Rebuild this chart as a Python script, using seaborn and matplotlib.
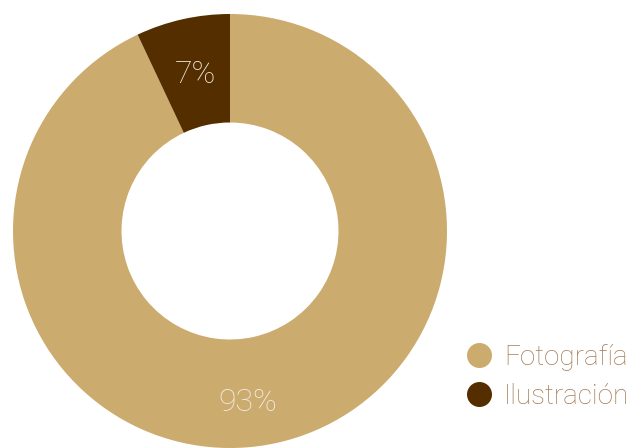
import matplotlib
matplotlib.use("Agg")
import matplotlib.pyplot as plt
from matplotlib.lines import Line2D
import seaborn as sns

categories = ["Fotografía", "Ilustración"]
shares = [93, 7]
colors = ["#CCAB6E", "#552E00"]
legend_text_color = "#A57C58"

sns.set_theme(style="white")
plt.rcParams["font.family"] = ["Roboto", "DejaVu Sans"]

fig = plt.figure(figsize=(6.34, 4.48), dpi=100)
ax = fig.add_axes([13 / 634, 0 / 448, 434 / 634, 434 / 448])

wedges, texts, autotexts = ax.pie(
    shares,
    colors=colors,
    startangle=90,
    counterclock=False,
    radius=1.0,
    autopct="%d%%",
    pctdistance=0.74,
    wedgeprops=dict(width=0.5, linewidth=0),
    textprops=dict(color="#F3EEE6", fontsize=23, fontweight="light"),
)
# the large share's label sits near the bottom of the ring
autotexts[0].set_position((0.08, -0.79))

ax.set_xlim(-1, 1)
ax.set_ylim(-1, 1)
ax.set_aspect("equal")
ax.axis("off")

handles = [
    Line2D([0], [0], marker="o", linestyle="", markersize=18,
           markerfacecolor=c, markeredgewidth=0)
    for c in colors
]
leg = fig.legend(
    handles, categories,
    loc="center left",
    bbox_to_anchor=(451 / 634, 1 - 377 / 448),
    frameon=False,
    fontsize=20,
    handletextpad=0.4,
    labelspacing=0.42,
    handlelength=1.0,
    borderpad=0,
)
for t in leg.get_texts():
    t.set_color(legend_text_color)
    t.set_fontweight("light")

fig.savefig("out.png", dpi=100, facecolor="white")
